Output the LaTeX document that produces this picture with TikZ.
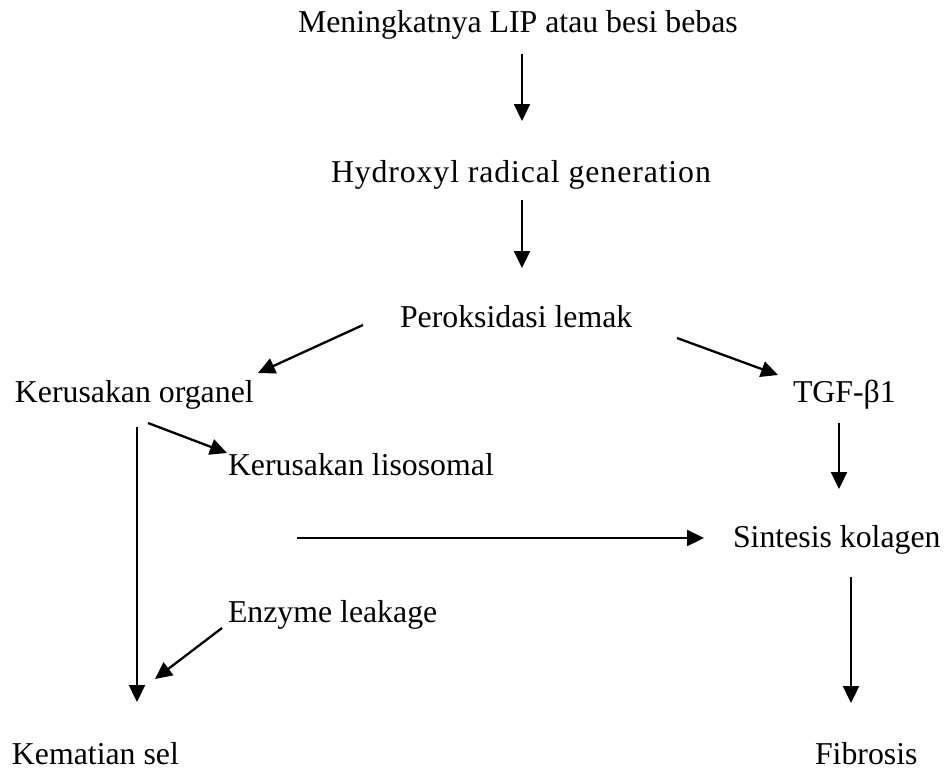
\documentclass[tikz,border=0pt]{standalone}
\usepackage{fontspec}
\setmainfont{Liberation Serif}
\usetikzlibrary{arrows.meta}
\begin{document}
\begin{tikzpicture}[x=1pt,y=-1pt,
  lbl/.style={anchor=base west,inner sep=0pt,outer sep=0pt,font=\fontsize{31.8}{38}\selectfont},
  arr/.style={line width=2.3pt,-{Triangle[length=17pt,width=16pt]}}]
\useasboundingbox (0,0) rectangle (946,772);
% texts
\node[lbl] (lip) at (298,32) {Meningkatnya LIP atau besi bebas};
\node[lbl] (hyd) at (331,182) {\addfontfeature{LetterSpace=2.8}Hydroxyl radical generation};
\node[lbl] (per) at (400,327) {Peroksidasi lemak};
\node[lbl] (org) at (15,402) {Kerusakan organel};
\node[lbl] (tgf) at (793,402) {TGF-β1};
\node[lbl] (lis) at (228,475) {Kerusakan lisosomal};
\node[lbl] (sin) at (733,547) {Sintesis kolagen};
\node[lbl] (enz) at (228,622) {Enzyme leakage};
\node[lbl] (kem) at (12,764) {Kematian sel};
\node[lbl] (fib) at (815,764) {Fibrosis};
% connector end points
\coordinate (a1s) at (522,54);  \coordinate (a1e) at (522,121);
\coordinate (a2s) at (522,200); \coordinate (a2e) at (522,268);
\coordinate (a3s) at (363,325); \coordinate (a3e) at (258,373);
\coordinate (a4s) at (677,338); \coordinate (a4e) at (778,375);
\coordinate (a5s) at (148,423); \coordinate (a5e) at (227,453);
\coordinate (a6s) at (137,427); \coordinate (a6e) at (137,702);
\coordinate (a7s) at (839,423); \coordinate (a7e) at (839,489);
\coordinate (a8s) at (297,538); \coordinate (a8e) at (704,538);
\coordinate (a9s) at (851,577); \coordinate (a9e) at (851,703);
\coordinate (a10s) at (222,628); \coordinate (a10e) at (155,679);
% connectors
\draw[arr] (a1s) -- (a1e);
\draw[arr] (a2s) -- (a2e);
\draw[arr] (a3s) -- (a3e);
\draw[arr] (a4s) -- (a4e);
\draw[arr] (a5s) -- (a5e);
\draw[arr] (a6s) -- (a6e);
\draw[arr] (a7s) -- (a7e);
\draw[arr] (a8s) -- (a8e);
\draw[arr] (a9s) -- (a9e);
\draw[arr] (a10s) -- (a10e);
\end{tikzpicture}
\end{document}
